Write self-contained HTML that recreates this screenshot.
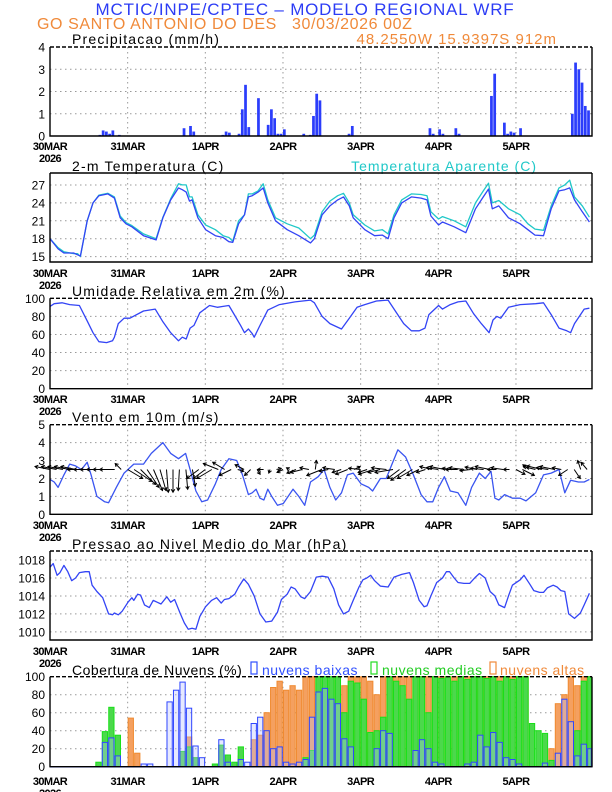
<!DOCTYPE html>
<html><head><meta charset="utf-8">
<style>
html,body{margin:0;padding:0;background:#fff;}
svg{display:block;font-family:"Liberation Sans",sans-serif;}
.tk{font-size:12px;fill:#000;text-anchor:end;}
.xl{font-size:11px;fill:#000;text-anchor:middle;font-weight:bold;letter-spacing:-0.6px;}
.pt{font-size:14px;fill:#000;letter-spacing:1.2px;}
</style></head>
<body>
<svg id="chart" width="612" height="792" viewBox="0 0 612 792" xmlns="http://www.w3.org/2000/svg">
<text x="305" y="15" font-size="17" fill="#2c3cf5" text-anchor="middle" letter-spacing="0.8">MCTIC/INPE/CPTEC – MODELO REGIONAL WRF</text>
<text x="37" y="29" font-size="16" fill="#f08a3a" letter-spacing="0.6" xml:space="preserve">GO SANTO ANTONIO DO DES   30/03/2026 00Z</text>
<text x="557" y="44" font-size="15" fill="#f08a3a" text-anchor="end" letter-spacing="1">48.2550W 15.9397S 912m</text>
<text x="72" y="44" class="pt">Precipitacao (mm/h)</text>
<text x="72" y="171" class="pt">2-m Temperatura (C)</text>
<text x="537" y="171" font-size="14" fill="#20c8c8" text-anchor="end" letter-spacing="1">Temperatura Aparente (C)</text>
<text x="72" y="296" class="pt">Umidade Relativa em 2m (%)</text>
<text x="72" y="422" class="pt">Vento em 10m (m/s)</text>
<text x="72" y="549" class="pt">Pressao ao Nivel Medio do Mar (hPa)</text>
<text x="72" y="675" font-size="14" fill="#000" letter-spacing="0.5">Cobertura de Nuvens (%)</text>
<rect x="251" y="662" width="6" height="12" fill="none" stroke="#3050ff" stroke-width="1.2"/>
<text x="262" y="675" font-size="14" fill="#3050ff" letter-spacing="0.5">nuvens baixas</text>
<rect x="371" y="662" width="6" height="12" fill="none" stroke="#22dd22" stroke-width="1.2"/>
<text x="382" y="675" font-size="14" fill="#22cc22" letter-spacing="0.5">nuvens medias</text>
<rect x="490" y="662" width="6" height="12" fill="none" stroke="#f08a3a" stroke-width="1.2"/>
<text x="500" y="675" font-size="14" fill="#f08a3a" letter-spacing="0.5">nuvens altas</text>
</svg>
<script>
// ---------- data ----------
const dayLabels = ["30MAR","31MAR","1APR","2APR","3APR","4APR","5APR"];
const precipHours = [15,16,17,18,19,21,41,43,44,53,54,55,58,59,60,61,64,67,68,69,70,71,72,78,80,81,82,83,92,93,117,118,120,121,125,126,136,137,140,141,142,143,145,161,162,163,164,165,166];
const precipValues = [0.05,0.25,0.2,0.1,0.25,0.05,0.35,0.45,0.2,0.05,0.2,0.15,0.1,1.2,2.3,0.4,1.7,0.5,1.2,0.8,0.1,0.1,0.3,0.1,0.05,0.9,1.9,1.6,0.1,0.45,0.35,0.1,0.3,0.1,0.35,0.1,1.8,2.8,0.6,0.1,0.2,0.15,0.35,1.0,3.3,3.0,2.4,1.35,1.15];
const tempHours = [0,2.5,4.3,7.3,8.5,9.4,11.5,13.3,15.1,17.9,19.9,21.7,23.5,25.3,28.9,32.8,34.9,37.3,39.7,40.9,42.1,43.1,43.9,45.7,48.1,51.1,53.5,55.3,56.5,58.3,60.1,61.3,62.5,64.3,65.9,67.3,69.7,73.3,76.9,80.5,81.7,84.1,86.5,88.9,90.7,92.5,93.7,97.3,100.3,102.7,104.5,106.3,108.7,111.7,114.7,116.5,117.7,120.1,121.3,124.9,128.5,131.5,133.9,135.5,136.7,138.7,141.7,145.3,147.7,149.9,152.5,154.9,157.3,159.1,160.6,162.1,164.5,166.7];
const tempValues = [18,16.3,15.6,15.6,15.3,15.1,21,24,25.2,25.5,24.8,21.5,20.5,20,18.5,17.8,21.5,24.5,26.5,26.2,25.8,24.3,24.5,21.5,19.5,18.5,18.2,17.5,17.4,20.5,22,25,25.2,25.8,26.5,24,21,19.5,18.5,17.3,18,22,23.5,24.5,25,23.5,21.5,19.5,18.5,18.6,18,21.5,24,25,24.8,24.5,21.8,20.3,20.8,20,19,23,25,26.3,23,23.5,21.5,20.5,19.5,18.6,18.5,23,26,26.2,26.5,24.5,22.5,20.8];
const appTempValues = [18,16.5,15.8,15.5,15.5,15,21,24,25.3,25.6,25,21.8,20.7,20.2,18.8,18,21.6,24.7,27.2,27,27,25,25,22,20.3,19.5,18.5,18.2,17.6,21,22,25.5,25.5,26,27.2,24.5,21.5,20.5,19.8,18,18.6,22.5,24.3,25.2,25.6,24,22,20.3,19.3,19.5,18.8,22,24.5,25.5,25.4,25.2,22.5,21.3,21.7,21,20,24,26,27.3,24,24.4,23,22,20.5,19.6,19.4,23.5,26.5,27,27.8,25,23.5,21.6];
const rhHours = [0,1.3,3.7,6.1,9.1,11.5,13.3,15.1,17.5,19.3,19.9,21.1,22.9,24.7,28.9,32.5,34.9,37.3,39.7,40.9,42.1,43.3,44.5,46.3,49.3,51.7,53.5,55.3,57.1,58.9,60.1,61.3,62.5,63.1,64.9,67.3,70.9,75.7,80.5,81.7,84.1,86.5,90.1,92.5,94.9,97.3,100.9,104.5,106.9,109.3,111.7,114.1,115.9,117.1,120.1,121.3,123.7,126.1,128.5,130.9,133.3,135.7,136.9,138.1,139.3,141.7,145.3,150.1,152.5,154.9,157.3,159.7,160.9,162.1,165.1,166.7];
const rhValues = [91,94,95,93,92,75,62,52,51,53,57,72,78,78,86,88,74,62,53,57,55,67,70,84,92,90,91,92,81,70,62,66,61,57,70,87,93,96,98,95,80,72,66,78,90,93,97,98,85,72,64,64,67,82,92,88,93,96,97,83,72,62,76,80,78,90,93,94,95,82,67,64,62,72,88,89];
const windHours = [0,1.3,2.5,4.3,6.1,7.9,9.7,11.5,12.7,14.5,16.9,18.1,20.5,22.9,25.9,28.9,31.3,34.9,37.3,39.7,41.9,43.3,45.1,46.9,48.7,51.1,52.9,55.3,57.7,59.5,61.3,62.5,63.7,64.9,66.1,67.3,68.5,70.3,72.1,75.1,76.9,78.7,80.5,82.9,84.7,86.5,88.3,90.1,91.9,93.7,96.1,98.5,99.7,102.1,103.9,105.7,107.5,109.9,112.3,114.7,116.5,118.3,120.1,121.9,123.7,126.1,128.5,130.3,132.7,134.5,136.3,137.5,138.7,140.5,142.9,145.3,147.1,150.1,152.5,154.9,157.3,159.1,160.9,163.3,165.1,166.7];
const windSpeed = [1.95,1.8,1.5,2.2,2.8,2.7,2.5,2.9,2.2,1,0.7,0.65,1.5,2.3,2.8,2.8,3.4,4.0,3.4,3.1,3.4,2.5,1.3,0.7,0.8,1.7,2.5,3.1,3.0,2.2,1.1,1.2,1.4,0.9,0.8,1.4,1.0,0.5,0.6,1.4,1.0,0.5,1.8,2.1,2.5,1.5,0.8,1.2,2.2,2.3,1.7,1.5,1.3,2.0,2.0,2.8,3.6,3.2,2.2,1.1,0.7,0.7,1.5,2.1,1.3,1.2,0.5,1.5,2.3,2.0,2.4,0.9,0.8,1.1,0.9,0.9,0.75,1.2,2.2,2.3,2.5,1.2,1.9,1.8,1.8,1.95];
const vecU = [-2.5,-2.5,-2.5,-2.5,-2.5,-2.5,-2.5,-2.5,-2.5,-2.5,-2.5,-1,2.5,3,2.5,2,1.5,1,0.3,0,-0.2,0.3,0.5,-2,-2,-2.5,-2.5,-2,-2,1,-1.5,-1,0.5,-1,-0.2,0.8,-1,-0.5,-1.5,-2,-1.5,0.2,-2.5,-1.5,-2,-1.5,-2,1,-2,-1.5,-2.5,-2,-2.5,-3,-2,-2.5,-2.5,-2,-1.5,-2,-2,-2.5,-1.5,-2,-2.5,-1.8,-2,-2.2,-2.5,-1.5,-2,-1,1.5,2,-1,-2,-2.5,-2,-2.5,-1.5,-1.5,1,-0.5,-1];
const vecV = [0.5,0.5,0.5,0.5,0.5,0,0,0,0,0,0,1,-1.5,-2,-2.5,-3,-3.5,-3.5,-3.8,-3.8,-3.5,-3.3,-2.8,-1.5,-1.5,-1.5,1,1.2,-1,-0.3,0.8,-1,-0.8,0,-0.6,0.2,-0.5,0.3,-0.6,-0.5,0.3,1.5,-1,-0.3,0.3,-0.5,-0.8,0.5,0.2,-0.5,-0.8,-0.5,0.3,-0.5,-1.5,-1.8,-1.5,-1,-0.5,0.5,0.3,0.5,0.2,0,0.3,-0.2,0.4,0.2,0.5,0,0.3,0,-0.8,-1,0.8,0.5,0.6,0.3,0.5,0.3,-1,-1.5,1.5,1.2];
const presHours = [0,1,2.2,3.1,4.3,5.5,6.7,7.9,9.1,10.9,12.1,13,14.5,16.3,18.1,19.3,19.9,21.1,22.3,24.1,25.3,25.9,27.1,28,29.2,30.7,31.9,33.1,34.3,36.1,37.3,38.5,40.3,41.5,42.7,43.9,45.1,46.3,48.1,49.9,51.5,52.9,53.9,55.3,57.1,58.3,59.9,61.3,63.1,64.9,66.7,68.5,70.3,71.5,73.3,74.5,75.7,77.5,78.7,80.5,82.3,84.1,85.9,87.7,89.2,90.7,92.3,93.7,95.5,96.7,97.9,99.1,100.3,102.1,104.5,106.3,108.7,111.1,112.3,114.1,115.6,116.5,117.7,119.5,121.3,122.5,123.5,124.9,126.1,127.9,129.7,131.5,132.7,134.5,136,137.5,138.7,140.5,141.7,142.9,145.3,146.5,148.3,149.5,151.3,152.5,153.7,155.5,156.7,157.9,159.1,160.3,162.1,163.9,165.1,166.7];
const presValues = [1017.2,1017.6,1016.3,1016.6,1017.4,1016.7,1015.7,1016,1016.6,1016.7,1016.7,1015.2,1014.5,1013.8,1012,1011.9,1012.1,1011.9,1012.3,1013.3,1013.8,1013.5,1014.2,1014.1,1013,1012.7,1013.5,1013.3,1013.1,1013.9,1013.3,1013.6,1012,1011,1010.3,1010.4,1010.3,1011.7,1012.8,1013.5,1013.8,1013.2,1013.6,1013.7,1014.2,1015,1015.9,1015.3,1014,1012,1011.1,1011.2,1012.2,1013.6,1014.2,1015,1014.8,1013.9,1013.7,1014.5,1016.1,1016.2,1016.1,1014.8,1013,1012,1012.3,1013.5,1015,1015.8,1016,1016.3,1015.7,1015.1,1015,1016.1,1016.4,1016.6,1015.5,1013.5,1012.8,1012.9,1014,1015.5,1016,1016.7,1016.7,1016,1015.5,1015.4,1015.4,1016.1,1016.5,1016,1014.5,1014,1013,1012.7,1014,1015.2,1015.8,1016.3,1015.3,1014.6,1014.4,1014.4,1014.9,1015.2,1015,1014.6,1014.5,1012,1011.5,1012.1,1013,1014.3];
// cloud cover, one value per 2-hour step starting at 00Z
const cloudLow = [0,0,0,0,0,0,0,0,27,32,12,0,0,0,3,3,0,0,72,85,94,65,23,10,0,0,30,5,0,8,5,48,55,40,20,22,5,3,5,8,55,83,87,75,70,31,22,0,0,0,20,40,37,0,0,0,18,30,20,5,3,0,0,0,3,5,35,22,38,27,10,8,3,0,0,0,4,0,15,75,50,12,25,20];
const cloudMid = [0,0,0,0,0,0,0,5,39,66,35,0,0,0,0,0,0,0,0,0,17,22,10,0,0,3,24,13,5,22,0,0,0,0,0,0,0,0,0,10,18,100,100,100,100,60,95,93,75,38,40,55,100,95,90,75,100,100,60,100,98,100,95,100,97,100,100,98,100,95,100,97,100,100,48,40,37,7,0,0,0,40,95,100];
const cloudHigh = [0,0,0,0,0,0,0,0,0,0,0,0,54,15,0,0,0,0,0,0,0,33,10,0,0,0,0,0,0,12,0,30,35,60,88,95,85,90,85,100,100,100,100,100,100,90,100,100,100,95,80,100,100,100,100,100,100,100,100,100,100,100,100,100,100,100,100,100,100,100,100,100,100,100,0,0,0,20,70,80,100,90,100,100];

// ---------- layout ----------
const X0 = 50, X1 = 592, HMAX = 167.5;
function xh(h){ return X0 + h*(X1-X0)/HMAX; }
const svg = document.getElementById('chart');
const NS = 'http://www.w3.org/2000/svg';
function mk(tag, attrs){ const e = document.createElementNS(NS, tag); for (const k in attrs) e.setAttribute(k, attrs[k]); svg.appendChild(e); return e; }

const panels = {
  precip:{top:47,bot:136,min:0,max:4,ticks:[0,1,2,3,4],lab:150},
  temp:{top:173,bot:262,min:14.1,max:29,ticks:[15,18,21,24,27],lab:277},
  rh:{top:298.3,bot:388.7,min:0,max:100,ticks:[0,20,40,60,80,100],lab:403},
  wind:{top:424.7,bot:514.3,min:0,max:5,ticks:[0,1,2,3,4,5],lab:529},
  pres:{top:551,bot:640,min:1009.1,max:1019,ticks:[1010,1012,1014,1016,1018],lab:655},
  cloud:{top:676.7,bot:766.7,min:0,max:100,ticks:[0,20,40,60,80,100],lab:785}
};
function yv(p, v){ return p.bot - (v - p.min)*(p.bot - p.top)/(p.max - p.min); }

function drawAxes(key){
  const p = panels[key];
  for (let d = 1; d < 7; d++){
    const g = mk('line',{x1:xh(d*24),x2:xh(d*24),y1:p.top,y2:p.bot,stroke:'#999','stroke-width':1,'stroke-dasharray':'1.5,3.5'});
    
    
  }
  p.ticks.forEach(t => {
    const y = yv(p,t);
    if (y > p.top+1 && y < p.bot-1){
      const g = mk('line',{x1:X0,x2:X1,y1:y,y2:y,stroke:'#999','stroke-width':1,'stroke-dasharray':'1.5,3.5'});
      
      
    }
    const tl = mk('text',{x:45,y:y+4.5,class:'tk'});
    tl.textContent = t;
    
    
  });
  dayLabels.forEach((d,i) => {
    const t = mk('text',{x:xh(i*24),y:p.lab,class:'xl'});
    t.textContent = d;
    
    
  });
  const yr = mk('text',{x:xh(0),y:p.lab+12,class:'xl'});
  yr.textContent = '2026';
  
  
}
function drawFrame(key){
  const p = panels[key];
  const f = mk('path',{d:`M${X0},${p.top}V${p.bot}H${X1}V${p.top}`,fill:'none',stroke:'#000','stroke-width':1.4});
  
  
  const t = mk('line',{x1:X0,x2:X1,y1:p.top,y2:p.top,stroke:'#000','stroke-width':1.4,'stroke-dasharray':key==='temp'?'none':'4,2'});
  
  
}
function drawLine(key, hrs, vals, color, name){
  const p = panels[key];
  const n = Math.min(hrs.length, vals.length);
  let d = '';
  for (let i = 0; i < n; i++) d += (i?'L':'M') + xh(Math.min(hrs[i],HMAX)).toFixed(1) + ',' + yv(p,vals[i]).toFixed(1);
  const l = mk('path',{d:d,fill:'none',stroke:color,'stroke-width':1.3,'stroke-linejoin':'round'});
  
  
}

Object.keys(panels).forEach(drawAxes);

// precip bars
(function(){
  const p = panels.precip;
  for (let i = 0; i < precipHours.length; i++){
    const h = precipHours[i];
    const x = xh(h), w = Math.min(xh(h+1), X1) - x - 0.5;
    if (w <= 0) continue;
    const b = mk('rect',{x:x,y:yv(p,precipValues[i]),width:w,height:p.bot-yv(p,precipValues[i]),fill:'#2b3dfb'});
    
    
  }
})();

drawLine('temp', tempHours, appTempValues, '#20c8c8', 'apparent-temp-line');
drawLine('temp', tempHours, tempValues, '#3344f5', 'temp-line');
drawLine('rh', rhHours, rhValues, '#3344f5', 'rh-line');
drawLine('wind', windHours, windSpeed, '#3a55f0', 'wind-speed-line');
drawLine('pres', presHours, presValues, '#3344f5', 'pressure-line');

// wind vectors
(function(){
  const p = panels.wind, base = yv(p,2.5), sc = 6;
  for (let i = 0; i < vecU.length; i++){
    const x = xh(i*2), dx = vecU[i]*sc, dy = -vecV[i]*sc;
    const len = Math.hypot(dx,dy);
    if (len < 0.5) continue;
    const ux = dx/len, uy = dy/len, ex = x+dx, ey = base+dy, hs = 3;
    const a = mk('path',{d:`M${x.toFixed(1)},${base.toFixed(1)}L${ex.toFixed(1)},${ey.toFixed(1)}M${(ex-hs*ux+hs*0.6*uy).toFixed(1)},${(ey-hs*uy-hs*0.6*ux).toFixed(1)}L${ex.toFixed(1)},${ey.toFixed(1)}L${(ex-hs*ux-hs*0.6*uy).toFixed(1)},${(ey-hs*uy+hs*0.6*ux).toFixed(1)}`,fill:'none',stroke:'#000','stroke-width':1});
    
    
  }
})();

// cloud bars
(function(){
  const p = panels.cloud;
  const series = [[cloudHigh,'#f4a060','#f08a30','cloud-high-bar'],[cloudMid,'#4cd84c','#18e018','cloud-mid-bar'],[cloudLow,'#b8c0ff','#2f46ff','cloud-low-bar']];
  series.forEach(s => {
    for (let i = 0; i < s[0].length; i++){
      const v = s[0][i];
      if (v <= 0) continue;
      const x = xh(i*2)+0.5, w = Math.min(xh(i*2+2), X1) - x - 0.7;
      if (w <= 0) continue;
      const y = yv(p,v);
      const b = mk('rect',{x:x,y:y,width:w,height:p.bot-y,fill:s[1],stroke:s[2],'stroke-width':1,'fill-opacity':s[3]==='cloud-low-bar'?0.35:1});
      
      
    }
  });
  const bl = mk('line',{x1:X0,x2:X1,y1:p.bot,y2:p.bot,stroke:'#2f46ff','stroke-width':1.5});
  
  
})();

Object.keys(panels).forEach(drawFrame);
</script>
</body></html>
